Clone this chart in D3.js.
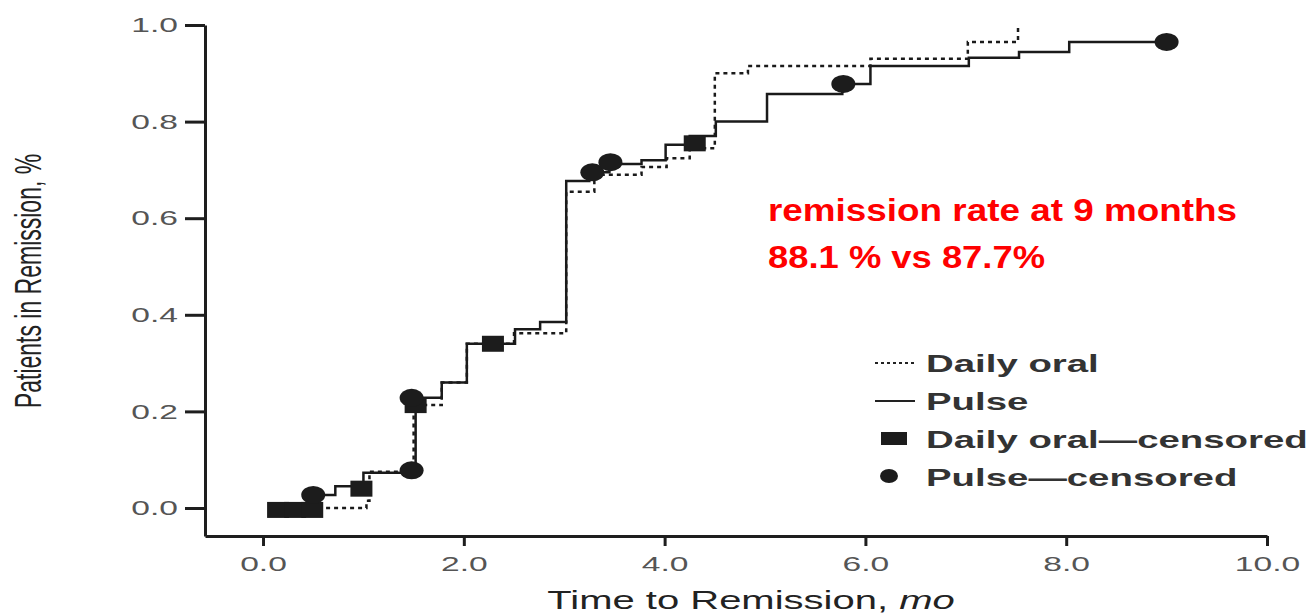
<!DOCTYPE html>
<html>
<head>
<meta charset="utf-8">
<script src="https://cdn.jsdelivr.net/npm/d3@7"></script>
<style>
  body { margin: 0; background: #fff; }
  text { font-family: "Liberation Sans", Arial, sans-serif; }
</style>
</head>
<body>
<div id="chart"></div>
<script>
//*********************** Kaplan-Meier style step chart **************************

// step points for each arm (time in months, proportion in remission)
var pulse_times = [0.15, 0.45, 0.72, 1.0, 1.52, 1.78, 2.03, 2.51, 2.76, 3.02, 3.25, 3.45, 3.77, 4.01, 4.25, 4.51, 5.02, 5.77, 6.05, 7.03, 7.53, 8.03, 9.0];
var pulse_values = [0, 0.027, 0.045, 0.073, 0.228, 0.26, 0.34, 0.37, 0.385, 0.677, 0.695, 0.712, 0.72, 0.752, 0.77, 0.80, 0.857, 0.878, 0.915, 0.932, 0.944, 0.965, 0.965];

var daily_times = [0.15, 1.03, 1.06, 1.5, 1.78, 2.03, 2.5, 3.02, 3.3, 3.77, 4.02, 4.25, 4.5, 4.83, 6.05, 7.02, 7.52];
var daily_values = [0, 0.015, 0.075, 0.213, 0.26, 0.34, 0.362, 0.655, 0.69, 0.706, 0.724, 0.745, 0.90, 0.915, 0.93, 0.965, 1.0];

// censored observations
var daily_cens_times = [0.15, 0.32, 0.49, 0.98, 1.52, 2.29, 4.3];
var daily_cens_values = [-0.004, -0.004, -0.004, 0.04, 0.213, 0.34, 0.755];
var pulse_cens_times = [0.5, 1.48, 1.48, 3.28, 3.46, 5.78, 9.0];
var pulse_cens_values = [0.027, 0.078, 0.228, 0.695, 0.716, 0.878, 0.965];

var x_ticks = [0, 2, 4, 6, 8, 10];
var y_ticks = [0, 0.2, 0.4, 0.6, 0.8, 1.0];
var legend_labels = ['Daily oral', 'Pulse', 'Daily oral\u2014censored', 'Pulse\u2014censored'];
var note_lines = ['remission rate at 9 months', '88.1 % vs 87.7%'];
var note_widths = [469, 277];

var chart_width = 1312;
var chart_height = 613;
var stretch = 1.6; // the source figure is stretched sideways

var svg = d3.select('#chart')
  .append('svg')
  .attr('width', chart_width)
  .attr('height', chart_height);

// scales
var x_scale = d3.scaleLinear()
  .domain([-0.578, 10])
  .range([205, 1267]);

var y_scale = d3.scaleLinear()
  .domain([-0.058, 1])
  .range([536, 25]);

// axes
var x_axis = d3.axisBottom(x_scale)
  .tickValues(x_ticks)
  .tickSize(10)
  .tickSizeOuter(0)
  .tickPadding(10)
  .tickFormat(d3.format('.1f'));

var y_axis = d3.axisLeft(y_scale)
  .tickValues(y_ticks)
  .tickSize(20)
  .tickSizeOuter(0)
  .tickFormat(d3.format('.1f'));

var gx = svg.append('g')
  .attr('transform', 'translate(0,536)')
  .call(x_axis);

var gy = svg.append('g')
  .attr('transform', 'translate(205,0)')
  .call(y_axis);

[gx, gy].forEach(function(g) {
  g.selectAll('path, line')
    .attr('stroke', '#1e1e1e')
    .attr('stroke-width', 3);
  g.selectAll('text')
    .attr('font-size', 21)
    .attr('fill', '#555')
    .attr('font-family', '"Liberation Sans", Arial, sans-serif');
});

gx.selectAll('.tick text')
  .attr('transform', 'scale(' + stretch + ',1)');

gy.selectAll('.tick text')
  .attr('x', -27 / stretch)
  .attr('transform', 'scale(' + stretch + ',1)');

// axis titles
svg.append('text')
  .attr('transform', 'translate(41,281) rotate(-90) scale(1,' + stretch + ')')
  .attr('text-anchor', 'middle')
  .attr('font-size', 23)
  .attr('fill', '#222')
  .text('Patients in Remission, %');

var xt = svg.append('text')
  .attr('transform', 'translate(751,609) scale(' + stretch + ',1)')
  .attr('text-anchor', 'middle')
  .attr('font-size', 25)
  .attr('fill', '#222');
xt.append('tspan').text('Time to Remission, ');
xt.append('tspan').attr('font-style', 'italic').text('mo');

// step curves
var step_line = d3.line()
  .x(function(d) { return x_scale(d[0]); })
  .y(function(d) { return y_scale(d[1]); })
  .curve(d3.curveStepAfter);

svg.append('path')
  .datum(d3.zip(daily_times, daily_values))
  .attr('d', step_line)
  .attr('fill', 'none')
  .attr('stroke', '#1a1a1a')
  .attr('stroke-width', 2.5)
  .attr('stroke-dasharray', '4,4');

svg.append('path')
  .datum(d3.zip(pulse_times, pulse_values))
  .attr('d', step_line)
  .attr('fill', 'none')
  .attr('stroke', '#1a1a1a')
  .attr('stroke-width', 2.5);

// censored markers
svg.selectAll('rect.cens')
  .data(d3.zip(daily_cens_times, daily_cens_values))
  .enter()
  .append('rect')
  .attr('class', 'cens')
  .attr('x', function(d) { return x_scale(d[0]) - 11; })
  .attr('y', function(d) { return y_scale(d[1]) - 8; })
  .attr('width', 22)
  .attr('height', 16)
  .attr('fill', '#1c1c1c');

svg.selectAll('ellipse.cens')
  .data(d3.zip(pulse_cens_times, pulse_cens_values))
  .enter()
  .append('ellipse')
  .attr('class', 'cens')
  .attr('cx', function(d) { return x_scale(d[0]); })
  .attr('cy', function(d) { return y_scale(d[1]); })
  .attr('rx', 12)
  .attr('ry', 9)
  .attr('fill', '#1c1c1c');

// legend
var legend = svg.append('g')
  .attr('transform', 'translate(875,0)');

legend.append('line')
  .attr('x1', 0).attr('x2', 40)
  .attr('y1', 363).attr('y2', 363)
  .attr('stroke', '#222')
  .attr('stroke-width', 2)
  .attr('stroke-dasharray', '3,3');

legend.append('line')
  .attr('x1', 0).attr('x2', 40)
  .attr('y1', 401).attr('y2', 401)
  .attr('stroke', '#222')
  .attr('stroke-width', 2);

legend.append('rect')
  .attr('x', 6).attr('y', 432)
  .attr('width', 26).attr('height', 13)
  .attr('fill', '#1c1c1c');

legend.append('ellipse')
  .attr('cx', 14).attr('cy', 476)
  .attr('rx', 9).attr('ry', 7)
  .attr('fill', '#1c1c1c');

legend.selectAll('text')
  .data(legend_labels)
  .enter()
  .append('text')
  .attr('transform', function(d, i) {
    return 'translate(51,' + (372 + i * 38) + ') scale(' + stretch + ',1)';
  })
  .attr('font-size', 24)
  .attr('font-weight', 'bold')
  .attr('fill', '#333')
  .text(function(d) { return d; });

// red note
svg.selectAll('text.note')
  .data(note_lines)
  .enter()
  .append('text')
  .attr('class', 'note')
  .attr('x', 768)
  .attr('y', function(d, i) { return 221 + i * 47; })
  .attr('textLength', function(d, i) { return note_widths[i]; })
  .attr('lengthAdjust', 'spacingAndGlyphs')
  .attr('font-family', 'Lato, "Open Sans", sans-serif')
  .attr('font-weight', 'bold')
  .attr('font-size', 32)
  .attr('fill', '#ff0000')
  .text(function(d) { return d; });
</script>
</body>
</html>
